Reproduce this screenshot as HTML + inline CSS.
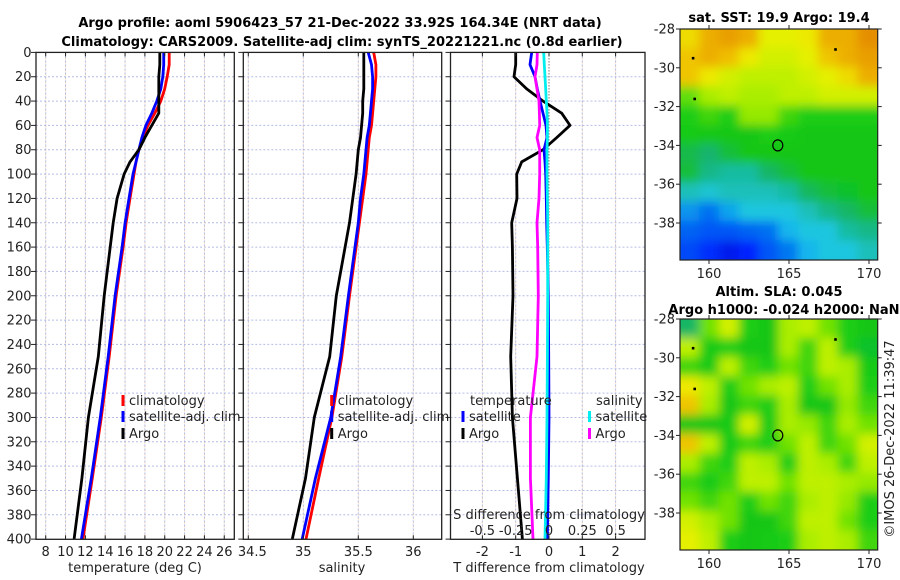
<!DOCTYPE html>
<html><head><meta charset="utf-8">
<style>
body{margin:0;background:#fff;}
svg{display:block;font-family:"DejaVu Sans","Liberation Sans",sans-serif;}
.t{font-size:13px;fill:#222;}
.b{font-size:13px;font-weight:bold;fill:#000;}
</style></head>
<body>
<svg id="fig" width="900" height="580" viewBox="0 0 900 580" xmlns="http://www.w3.org/2000/svg">
<defs>
<filter id="blur1" filterUnits="userSpaceOnUse" x="670" y="19" width="218" height="251"><feGaussianBlur stdDeviation="5"/></filter>
<filter id="blur2" filterUnits="userSpaceOnUse" x="670" y="309" width="218" height="251"><feGaussianBlur stdDeviation="5"/></filter>
<clipPath id="c1"><rect x="36" y="52.4" width="198.3" height="487"/></clipPath>
<clipPath id="c2"><rect x="243.3" y="52.4" width="198.4" height="487"/></clipPath>
<clipPath id="c3"><rect x="450.5" y="52.4" width="194.5" height="487"/></clipPath>
<clipPath id="cm1"><rect x="680" y="29" width="197.7" height="231"/></clipPath>
<clipPath id="cm2"><rect x="680" y="319" width="197.7" height="231.5"/></clipPath>
</defs>
<text class="b" x="340" y="27" text-anchor="middle">Argo profile: aoml 5906423_57 21-Dec-2022 33.92S 164.34E (NRT data)</text>
<text class="b" x="342" y="46" text-anchor="middle">Climatology: CARS2009. Satellite-adj clim: synTS_20221221.nc (0.8d earlier)</text>
<g id="layer"></g>
</svg>
<script>
// ---------- data ----------
const depths = [0,10,20,30,40,50,60,70,80,90,100,120,140,160,200,250,300,350,400];
const tempClim = [20.45,20.45,20.25,20.0,19.6,19.0,18.3,17.8,17.4,17.1,16.9,16.5,16.1,15.8,15.1,14.4,13.6,12.7,11.75];
const tempSat  = [19.9,19.9,19.8,19.6,19.2,18.7,18.1,17.7,17.4,17.1,16.8,16.4,16.0,15.7,15.0,14.3,13.5,12.6,11.6];
const tempArgo = [19.5,19.5,19.4,19.4,19.4,19.4,18.7,18.0,17.4,16.5,15.9,15.2,14.8,14.5,13.9,13.3,12.3,11.65,10.86];
const salClim = [35.64,35.66,35.66,35.65,35.64,35.63,35.62,35.6,35.59,35.58,35.57,35.54,35.51,35.48,35.42,35.35,35.26,35.14,35.025];
const salSat  = [35.59,35.62,35.63,35.63,35.62,35.61,35.6,35.58,35.57,35.56,35.55,35.52,35.5,35.47,35.41,35.34,35.25,35.11,34.99];
const salArgo = [35.55,35.55,35.55,35.55,35.54,35.54,35.53,35.52,35.5,35.49,35.48,35.45,35.42,35.38,35.3,35.24,35.1,35.02,34.9];
const tDiffArgo = [-1.0,-1.0,-1.05,-0.67,-0.18,0.38,0.63,0.23,-0.18,-0.82,-0.97,-0.96,-1.12,-1.1,-1.08,-1.15,-1.1,-0.95,-0.8];
const tDiffSat  = [-0.52,-0.57,-0.42,-0.35,-0.27,-0.18,-0.09,-0.06,-0.15,-0.12,-0.1,-0.08,-0.07,-0.05,-0.02,-0.01,0.0,-0.02,-0.05];
const sDiffArgo = [-0.088,-0.09,-0.105,-0.09,-0.075,-0.072,-0.07,-0.09,-0.07,-0.07,-0.07,-0.075,-0.09,-0.085,-0.08,-0.09,-0.14,-0.14,-0.12];
const sDiffSat  = [-0.04,-0.035,-0.03,-0.025,-0.02,-0.015,-0.012,-0.012,-0.015,-0.015,-0.015,-0.012,-0.01,-0.01,-0.01,-0.012,-0.015,-0.02,-0.03];
const depthTicks = [0,20,40,60,80,100,120,140,160,180,200,220,240,260,280,300,320,340,360,380,400];
const tempTicks = [8,10,12,14,16,18,20,22,24,26];
const salTicks = [34.5,35,35.5,36];
const tdTicks = [-2,-1,0,1,2];
const sdTicks = [-0.5,-0.25,0,0.25,0.5];
const sstGrid = [
[0.82,0.88,0.9,0.88,0.78,0.78,0.8,0.88,0.88,0.92],
[0.85,0.88,0.86,0.8,0.75,0.75,0.78,0.85,0.88,0.9],
[0.85,0.8,0.75,0.72,0.72,0.72,0.75,0.78,0.82,0.88],
[0.64,0.7,0.72,0.7,0.7,0.72,0.72,0.75,0.75,0.75],
[0.6,0.62,0.6,0.68,0.68,0.62,0.6,0.6,0.6,0.6],
[0.58,0.56,0.56,0.55,0.6,0.58,0.55,0.55,0.55,0.55],
[0.48,0.44,0.5,0.55,0.55,0.55,0.55,0.55,0.55,0.55],
[0.5,0.42,0.4,0.4,0.45,0.5,0.55,0.55,0.55,0.55],
[0.38,0.36,0.38,0.38,0.38,0.4,0.46,0.5,0.52,0.55],
[0.28,0.24,0.3,0.35,0.35,0.35,0.38,0.42,0.45,0.5],
[0.22,0.2,0.2,0.22,0.24,0.32,0.35,0.35,0.4,0.42],
[0.18,0.14,0.1,0.12,0.2,0.25,0.32,0.35,0.35,0.38]];
const slaGrid = [
[0.45,0.65,0.75,0.6,0.55,0.7,0.72,0.65,0.6,0.55],
[0.72,0.58,0.6,0.55,0.55,0.7,0.62,0.72,0.6,0.52],
[0.62,0.58,0.72,0.62,0.6,0.65,0.62,0.72,0.7,0.58],
[0.8,0.72,0.6,0.65,0.7,0.72,0.6,0.65,0.7,0.6],
[0.85,0.7,0.55,0.62,0.6,0.7,0.55,0.55,0.68,0.62],
[0.55,0.55,0.58,0.75,0.58,0.7,0.68,0.62,0.7,0.65],
[0.85,0.72,0.58,0.62,0.6,0.65,0.72,0.62,0.65,0.75],
[0.7,0.62,0.6,0.72,0.7,0.6,0.72,0.7,0.62,0.72],
[0.62,0.58,0.62,0.72,0.72,0.65,0.72,0.72,0.7,0.68],
[0.65,0.62,0.65,0.6,0.65,0.62,0.7,0.72,0.68,0.6],
[0.75,0.7,0.65,0.55,0.55,0.62,0.72,0.72,0.65,0.6],
[0.78,0.72,0.6,0.55,0.58,0.6,0.7,0.72,0.7,0.62]];
const latTicks = [-28,-30,-32,-34,-36,-38];
const lonTicks = [160,165,170];
const floatLon = 164.3, floatLat = -34.0;
const islands = [[159.0,-29.5],[159.1,-31.6],[167.9,-29.05]];

// ---------- helpers ----------
const NS="http://www.w3.org/2000/svg";
const layer=document.getElementById('layer');
function mk(tag,attrs,parent){const e=document.createElementNS(NS,tag);for(const k in attrs)e.setAttribute(k,attrs[k]);(parent||layer).appendChild(e);return e;}
const yD = d => 52.4 + d*1.2168;
const P1={x0:36,x1:234.3,f:v=>45.7+(v-8)*9.92};
const P2={x0:243.3,x1:441.7,f:v=>303.3+(v-35)*110};
const P3={x0:450.5,x1:645,f:v=>549+v*33.3};
const sdX = v => 549 + v*133.2;
const Y0=52.4,Y1=539.3;

function grid(P, ticks, name){
  const g=mk('g',{});
  
  
  depthTicks.forEach(d=>{ if(d===0||d===400)return;
    mk('line',{x1:P.x0,x2:P.x1,y1:yD(d),y2:yD(d),stroke:'#b4bce6','stroke-width':1,'stroke-dasharray':'2,2'},g);
  });
  ticks.forEach(v=>{const x=P.f(v); if(x<=P.x0+1||x>=P.x1-1)return;
    mk('line',{x1:x,x2:x,y1:Y0,y2:Y1,stroke:'#b4bce6','stroke-width':1,'stroke-dasharray':'2,2'},g);
    mk('line',{x1:x,x2:x,y1:Y0+2,y2:Y1,stroke:'#f0c8a0','stroke-width':1,'stroke-dasharray':'1,3'},g);
  });
}
function frame(P,name,ticks){
  const r=mk('rect',{x:P.x0,y:Y0,width:P.x1-P.x0,height:Y1-Y0,fill:'none',stroke:'#222','stroke-width':1.3});
  
  
  depthTicks.forEach(d=>{mk('line',{x1:P.x0-5,x2:P.x0,y1:yD(d),y2:yD(d),stroke:'#222','stroke-width':1});});
  ticks.forEach(v=>{const x=P.f(v);mk('line',{x1:x,x2:x,y1:Y1,y2:Y1-4,stroke:'#222'});mk('line',{x1:x,x2:x,y1:Y0,y2:Y0+4,stroke:'#222'});});
}
function line(P,f,vals,color,name,clip){
  const pts=depths.map((d,i)=>f(vals[i]).toFixed(1)+','+yD(d).toFixed(1)).join(' ');
  const e=mk('polyline',{points:pts,fill:'none',stroke:color,'stroke-width':2.8,'stroke-linejoin':'round','clip-path':'url(#'+clip+')'});
  
  
}
function text(x,y,s,anchor,name,cls){
  const e=mk('text',{x:x,y:y,'text-anchor':anchor||'start','class':cls||'t'});
  e.textContent=s;
  
  
  return e;
}
function legendEntry(x,y,color,label,name){
  mk('rect',{x:x-1.5,y:y-10,width:3,height:11,fill:color});
  text(x+6,y,label,'start',name);
}

// ---------- panel 1 ----------
grid(P1,tempTicks,'temperature');
line(P1,P1.f,tempClim,'#ff0000','temp-climatology-line','c1');
line(P1,P1.f,tempSat,'#0000ff','temp-satellite-line','c1');
line(P1,P1.f,tempArgo,'#000000','temp-argo-line','c1');
frame(P1,'temperature-panel',tempTicks);
depthTicks.forEach(d=>text(31.5,yD(d)+4.5,String(d),'end','depth-tick-label'));
tempTicks.forEach(v=>text(P1.f(v),556,String(v),'middle','temp-tick-label'));
text(135,572,'temperature (deg C)','middle','temperature-axis-title');
legendEntry(123,405,'#ff0000','climatology','legend-climatology');
legendEntry(123,421,'#0000ff','satellite-adj. clim','legend-satellite');
legendEntry(123,438,'#000000','Argo','legend-argo');

// ---------- panel 2 ----------
grid(P2,salTicks,'salinity');
line(P2,P2.f,salClim,'#ff0000','sal-climatology-line','c2');
line(P2,P2.f,salSat,'#0000ff','sal-satellite-line','c2');
line(P2,P2.f,salArgo,'#000000','sal-argo-line','c2');
frame(P2,'salinity-panel',salTicks);
salTicks.forEach(v=>text(P2.f(v)+(v===34.5?4:0),556,String(v),'middle','sal-tick-label'));
text(342,572,'salinity','middle','salinity-axis-title');
legendEntry(331.7,405,'#ff0000','climatology','legend2-climatology');
legendEntry(331.7,421,'#0000ff','satellite-adj. clim','legend2-satellite');
legendEntry(331.7,438,'#000000','Argo','legend2-argo');

// ---------- panel 3 ----------
grid(P3,tdTicks.filter(v=>v!==0),'difference');
mk('line',{x1:549,x2:549,y1:Y0,y2:Y1,stroke:'#333','stroke-width':1,'stroke-dasharray':'1,2'});
line(P3,P3.f,tDiffArgo,'#000000','tdiff-argo-line','c3');
line(P3,P3.f,tDiffSat,'#0000ff','tdiff-satellite-line','c3');
line(P3,sdX,sDiffArgo,'#ff00ff','sdiff-argo-line','c3');
line(P3,sdX,sDiffSat,'#00eeee','sdiff-satellite-line','c3');
frame(P3,'difference-panel',tdTicks);
tdTicks.forEach(v=>text(P3.f(v),556,String(v),'middle','tdiff-tick-label'));
text(549,572,'T difference from climatology','middle','tdiff-axis-title');
text(549,519,'S difference from climatology','middle','sdiff-axis-title');
sdTicks.forEach(v=>text(sdX(v),535,String(v),'middle','sdiff-tick-label'));
text(470,405,'temperature','start','legend3-temperature-header');
legendEntry(463,421,'#0000ff','satellite','legend3-temp-satellite');
legendEntry(463,438,'#000000','Argo','legend3-temp-argo');
text(596,405,'salinity','start','legend3-salinity-header');
legendEntry(589.5,421,'#00eeee','satellite','legend3-sal-satellite');
legendEntry(589.5,438,'#ff00ff','Argo','legend3-sal-argo');

// ---------- maps ----------
const stops=[[0,[0,0,140]],[0.12,[0,32,255]],[0.25,[0,120,240]],[0.34,[30,200,235]],[0.44,[20,180,110]],[0.54,[16,196,24]],[0.6,[30,205,20]],[0.66,[130,230,0]],[0.72,[190,240,0]],[0.79,[236,240,0]],[0.86,[240,190,0]],[0.95,[224,120,0]],[1,[200,60,0]]];
function cmap(v){for(let i=1;i<stops.length;i++){if(v<=stops[i][0]){const a=stops[i-1],b=stops[i],t=(v-a[0])/(b[0]-a[0]);return 'rgb('+a[1].map((c,k)=>Math.round(c+(b[1][k]-c)*t)).join(',')+')';}}return 'rgb(200,60,0)';}
function drawMap(gridv,y0,clip,filt,name){
  const x0=680,w=197.7,h=231,rows=gridv.length,cols=gridv[0].length,cw=w/cols,ch=h/rows;
  const g=mk('g',{'clip-path':'url(#'+clip+')'});
  
  
  const gi=mk('g',{filter:'url(#'+filt+')'},g);
  gridv.forEach((row,r)=>row.forEach((v,c)=>{
    let x=x0+c*cw, y=y0+r*ch, ww=cw, hh=ch;
    if(c===0){x-=10;ww+=10;} if(c===cols-1){ww+=10;}
    if(r===0){y-=10;hh+=10;} if(r===rows-1){hh+=10;}
    mk('rect',{x:(x-0.5).toFixed(1),y:(y-0.5).toFixed(1),width:(ww+1).toFixed(1),height:(hh+1).toFixed(1),fill:cmap(v)},gi);
  }));
  const lx=lon=>709+(lon-160)*16, ly=lat=>y0+(-28-lat)*19.4;
  islands.forEach(p=>mk('rect',{x:lx(p[0])-1.2,y:ly(p[1])-1.2,width:2.6,height:2.6,fill:'#000'},g));
  const c=mk('ellipse',{cx:lx(floatLon),cy:ly(floatLat),rx:5,ry:5.5,fill:'none',stroke:'#000','stroke-width':1.2});
  
  
  mk('rect',{x:x0,y:y0,width:w,height:h,fill:'none',stroke:'#222','stroke-width':1.2});
  latTicks.forEach(l=>{const y=ly(l);mk('line',{x1:x0-4,x2:x0,y1:y,y2:y,stroke:'#222'});mk('line',{x1:x0+w,x2:x0+w+4,y1:y,y2:y,stroke:'#222'});
    text(675,y+4.5,String(l),'end','lat-tick-label');});
  lonTicks.forEach(l=>{const x=lx(l);mk('line',{x1:x,x2:x,y1:y0+h,y2:y0+h+4,stroke:'#222'});mk('line',{x1:x,x2:x,y1:y0-4,y2:y0,stroke:'#222'});
    text(x,y0+h+18,String(l),'middle','lon-tick-label');});
}
drawMap(sstGrid,29,'cm1','blur1','sst-map');
drawMap(slaGrid,319,'cm2','blur2','sla-map');
text(779,22,'sat. SST: 19.9 Argo: 19.4','middle','sst-map-title','b');
text(779,296,'Altim. SLA: 0.045','middle','sla-map-title-1','b');
text(784,314,'Argo h1000: -0.024 h2000: NaN','middle','sla-map-title-2','b');
const cr=text(0,0,'©IMOS 26-Dec-2022 11:39:47','middle','imos-timestamp');
cr.setAttribute('transform','translate(894,439) rotate(-90)');
</script>
</body></html>
